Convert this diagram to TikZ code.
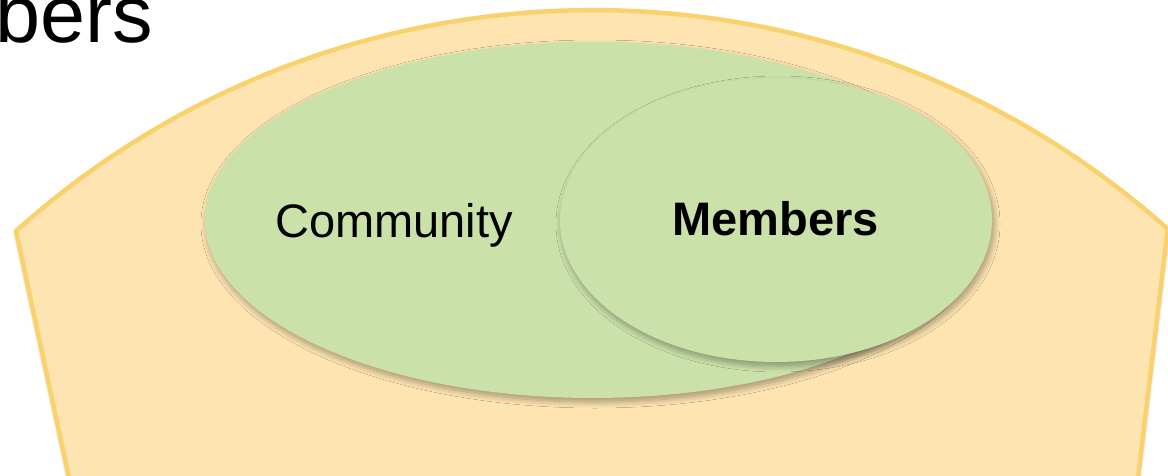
\documentclass[tikz,border=0pt]{standalone}
\usepackage{fontspec}
\setmainfont{Liberation Sans}
\usetikzlibrary{shapes.geometric,shadows.blur}
\definecolor{peach}{HTML}{FDE4B1}
\definecolor{peachline}{HTML}{F9D26E}
\definecolor{leaf}{HTML}{CBE1AA}
\tikzset{
  outerarea/.style={fill=peach, draw=peachline, line width=4.5pt, line join=round,
    blur shadow={shadow xshift=0pt, shadow yshift=-2pt, shadow blur radius=4pt, shadow opacity=30}},
  blob/.style={ellipse, fill=leaf, draw=none, inner sep=0pt,
    blur shadow={shadow xshift=2pt, shadow yshift=-4pt, shadow blur radius=6pt, shadow blur steps=10, shadow opacity=35}},
  bigtext/.style={font=\fontsize{47}{56}\selectfont, text=black, inner sep=0pt},
  titletext/.style={font=\fontsize{81}{96}\selectfont, text=black, inner sep=0pt}
}
\begin{document}
\begin{tikzpicture}[x=1pt,y=-1pt]
\useasboundingbox (0,0) rectangle (1168,476);
\clip (0,0) rectangle (1168,476);
% outer area
\draw[outerarea] (78,520) -- (16,231) arc[start angle=-131.9, end angle=-48.3, radius=864] -- (1133,520);
% community ellipse
\node[blob, minimum width=776pt, minimum height=356pt] (community) at (593,220) {};
% members ellipse
\node[blob, minimum width=432pt, minimum height=284pt] (members) at (776,220) {};
\node[bigtext, anchor=base] (communitylabel) at (394,237) {Community};
\node[bigtext, anchor=base, font=\fontsize{47}{56}\selectfont\bfseries] (memberslabel) at (775.5,236) {Members};
% title (cut off at the edge, as in the reference)
\node[titletext, anchor=base east] (title) at (153,43) {Members};
\end{tikzpicture}
\end{document}
